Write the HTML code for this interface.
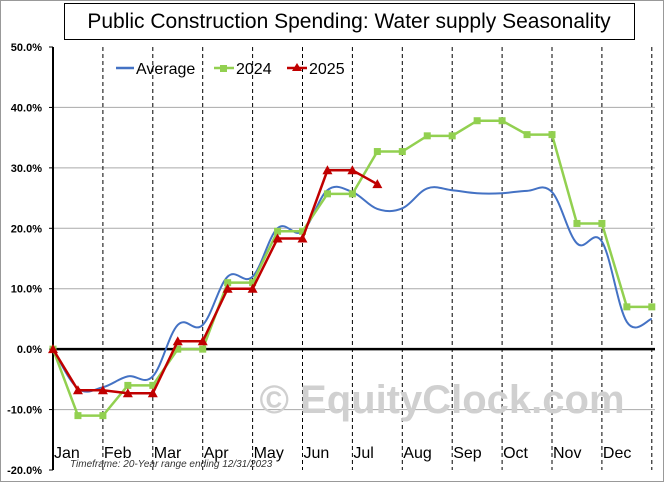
<!DOCTYPE html>
<html><head><meta charset="utf-8"><style>
body{margin:0;background:#fff;}
svg text{font-family:"Liberation Sans",sans-serif;}
</style></head><body>
<svg width="664" height="482" xmlns="http://www.w3.org/2000/svg">
<rect x="0.5" y="0.5" width="663" height="481" fill="#fff" stroke="#999"/>
<rect x="64.5" y="3.5" width="570" height="36" fill="#fff" stroke="#000"/>
<text x="349" y="28" font-size="21" text-anchor="middle">Public Construction Spending: Water supply Seasonality</text>
<g id="grid"></g>
<text x="442" y="413" font-size="40" font-weight="bold" fill="#d0d0d0" text-anchor="middle">© EquityClock.com</text>
<g id="axes"></g>
<g id="series"></g>
<text x="70" y="467" font-size="10" font-style="italic" fill="#333">Timeframe: 20-Year range ending 12/31/2023</text>
<g>
<line x1="116" y1="68" x2="134" y2="68" stroke="#4472c4" stroke-width="2.5"/>
<text x="136" y="74" font-size="16">Average</text>
<line x1="214" y1="68" x2="234" y2="68" stroke="#92d050" stroke-width="2.5"/>
<rect x="220" y="65" width="7" height="7" fill="#92d050"/>
<text x="236" y="74" font-size="16">2024</text>
<line x1="287" y1="68" x2="307" y2="68" stroke="#c00000" stroke-width="2.5"/>
<polygon points="297,63 302,71 292,71" fill="#c00000"/>
<text x="309" y="74" font-size="16">2025</text>
</g>
</svg>
<script>
const months=["Jan","Feb","Mar","Apr","May","Jun","Jul","Aug","Sep","Oct","Nov","Dec"];
const yTicks=[50,40,30,20,10,0,-10,-20];
const avgValues=[0,-6.5,-6.3,-4.5,-4.5,4,4,12,12,20,19.5,26.3,26,23.2,23.3,26.6,26.3,25.8,25.8,26.2,26,17.5,17.8,4.5,5];
const values2024=[0,-11,-11,-6,-6,0,0,11,11,19.5,19.5,25.7,25.7,32.7,32.7,35.3,35.3,37.8,37.8,35.5,35.5,20.8,20.8,7,7];
const values2025=[0,-6.8,-6.8,-7.3,-7.3,1.3,1.3,10,10,18.3,18.3,29.6,29.6,27.3];
const NS="http://www.w3.org/2000/svg";
const x0=53,step=24.95,yTop=47,yBot=470,vMax=50,vMin=-20;
const xs=i=>x0+i*step;
const ys=v=>yTop+(vMax-v)/(vMax-vMin)*(yBot-yTop);
function mk(t,a,p){const e=document.createElementNS(NS,t);for(const k in a)e.setAttribute(k,a[k]);p.appendChild(e);return e;}
const grid=document.getElementById('grid'),axes=document.getElementById('axes'),ser=document.getElementById('series');
yTicks.forEach(v=>{
 if(v!==0&&v!==-20&&v!==50){const l=mk('line',{x1:x0,x2:655,y1:ys(v),y2:ys(v),stroke:'#aaa','stroke-width':1},grid);
 
 }
 const t=mk('text',{x:42,y:ys(v)+4,'font-size':11,'font-weight':'bold','text-anchor':'end'},axes);
 t.textContent=v.toFixed(1)+'%';
 
 
 mk('line',{x1:x0-4,x2:x0,y1:ys(v),y2:ys(v),stroke:'#000'},axes);
});
months.forEach((m,i)=>{
 const xl=xs(2*i+2);
 const d=mk('line',{x1:xl,x2:xl,y1:yTop,y2:yBot,stroke:'#000','stroke-dasharray':'4,3','stroke-width':1},grid);
 
 
 const t=mk('text',{x:xs(2*i)+1,y:458,'font-size':16},axes);
 t.textContent=m;
 
 
});
const ya=mk('line',{x1:x0,x2:x0,y1:yTop,y2:yBot,stroke:'#000','stroke-width':2},axes);


const za=mk('line',{x1:x0,x2:655,y1:ys(0),y2:ys(0),stroke:'#000','stroke-width':2.5},axes);


function smooth(vals){const p=vals.map((v,i)=>[xs(i),ys(v)]);let d='M'+p[0];for(let i=0;i<p.length-1;i++){const a=p[i-1]||p[i],b=p[i],c=p[i+1],e=p[i+2]||c;const t=0.18;d+=` C${b[0]+(c[0]-a[0])*t},${b[1]+(c[1]-a[1])*t} ${c[0]-(e[0]-b[0])*t},${c[1]-(e[1]-b[1])*t} ${c[0]},${c[1]}`;}return d;}
const av=mk('path',{d:smooth(avgValues),fill:'none',stroke:'#4472c4','stroke-width':2},ser);


const l24=mk('polyline',{points:values2024.map((v,i)=>xs(i)+','+ys(v)).join(' '),fill:'none',stroke:'#92d050','stroke-width':2.5},ser);


values2024.forEach((v,i)=>{const r=mk('rect',{x:xs(i)-3.5,y:ys(v)-3.5,width:7,height:7,fill:'#92d050'},ser);
 
 });
const l25=mk('polyline',{points:values2025.map((v,i)=>xs(i)+','+ys(v)).join(' '),fill:'none',stroke:'#c00000','stroke-width':2.5},ser);


values2025.forEach((v,i)=>{const x=xs(i),y=ys(v);const p=mk('polygon',{points:`${x},${y-5} ${x+5},${y+4} ${x-5},${y+4}`,fill:'#c00000'},ser);
 
 });
</script>
</body></html>
